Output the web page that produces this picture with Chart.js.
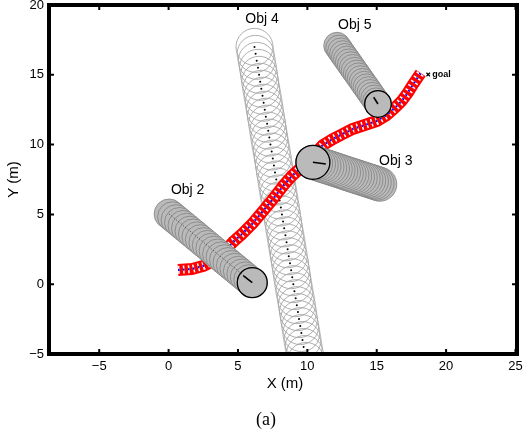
<!DOCTYPE html>
<html>
<head>
<meta charset="utf-8">
<title>Obstacle avoidance (a)</title>
<script src="https://cdn.jsdelivr.net/npm/chart.js@4.4.1/dist/chart.umd.min.js"></script>
<style>
	html, body { margin:0; padding:0; background:#fff; }
	canvas { display:block; }
</style>
</head>
<body>
<canvas id="plot" width="526" height="436"></canvas>
<script>
// vehicle path (red band with blue samples)
const pathX = [0.68, 1.69, 2.48, 3.35, 4.06, 4.64, 5.29, 6.01, 6.80, 7.52, 8.24, 8.88, 9.60, 10.40, 11.12, 11.83, 12.55, 13.27, 14.14, 15.00, 15.72, 16.29, 16.80, 17.23, 17.59, 17.88, 18.17];
const pathY = [1.02, 1.09, 1.30, 1.73, 2.38, 3.02, 3.60, 4.31, 5.24, 6.10, 7.03, 7.75, 8.40, 9.18, 9.97, 10.40, 10.76, 11.12, 11.40, 11.69, 12.12, 12.62, 13.12, 13.70, 14.27, 14.70, 15.13];
const goalX = [18.71];
const goalY = [15.02];

// Obj 2 positions over time (last one = current)
const obj2X = [0.04, 0.29, 0.54, 0.79, 1.04, 1.29, 1.54, 1.79, 2.04, 2.29, 2.54, 2.79, 3.04, 3.28, 3.53, 3.78, 4.03, 4.28, 4.53, 4.78, 5.03, 5.28, 5.53, 5.78, 6.03];
const obj2Y = [5.03, 4.83, 4.62, 4.42, 4.21, 4.01, 3.80, 3.60, 3.39, 3.19, 2.98, 2.78, 2.57, 2.37, 2.16, 1.96, 1.75, 1.55, 1.34, 1.14, 0.93, 0.73, 0.52, 0.32, 0.11];
const obj2HeadX = [6.03, 5.38];
const obj2HeadY = [0.11, 0.61];

// Obj 3
const obj3X = [15.22, 15.02, 14.82, 14.62, 14.42, 14.22, 14.02, 13.81, 13.61, 13.41, 13.21, 13.01, 12.81, 12.61, 12.41, 12.21, 12.01, 11.81, 11.61, 11.41, 11.20, 11.00, 10.80, 10.60, 10.40];
const obj3Y = [7.16, 7.23, 7.29, 7.36, 7.42, 7.49, 7.55, 7.62, 7.68, 7.75, 7.81, 7.88, 7.94, 8.01, 8.08, 8.14, 8.21, 8.27, 8.34, 8.40, 8.47, 8.53, 8.60, 8.66, 8.73];
const obj3HeadX = [10.40, 11.33];
const obj3HeadY = [8.73, 8.61];

// Obj 4 (outline circles)
const obj4X = [6.19, 6.27, 6.35, 6.44, 6.52, 6.60, 6.68, 6.77, 6.85, 6.93, 7.01, 7.10, 7.18, 7.26, 7.34, 7.43, 7.51, 7.59, 7.67, 7.76, 7.84, 7.92, 8.00, 8.09, 8.17, 8.25, 8.33, 8.42, 8.50, 8.58, 8.66, 8.75, 8.83, 8.91, 8.99, 9.07, 9.16, 9.24, 9.32, 9.40, 9.49, 9.57, 9.65, 9.73, 9.82, 9.90];
const obj4Y = [17.0, 16.5, 16.0, 15.5, 15.0, 14.5, 14.0, 13.5, 13.0, 12.5, 12.0, 11.5, 11.0, 10.5, 10.0, 9.5, 9.0, 8.5, 8.0, 7.5, 7.0, 6.5, 6.0, 5.5, 5.0, 4.5, 4.0, 3.5, 3.0, 2.5, 2.0, 1.5, 1.0, 0.5, 0.0, -0.5, -1.0, -1.5, -2.0, -2.5, -3.0, -3.5, -4.0, -4.5, -5.0, -5.5];

// Obj 5
const obj5X = [12.14, 12.28, 12.42, 12.56, 12.70, 12.84, 12.98, 13.12, 13.26, 13.40, 13.55, 13.69, 13.83, 13.97, 14.11, 14.25, 14.39, 14.53, 14.67, 14.81, 14.95, 15.09];
const obj5Y = [17.09, 16.89, 16.69, 16.49, 16.29, 16.10, 15.90, 15.70, 15.50, 15.30, 15.10, 14.90, 14.70, 14.50, 14.30, 14.11, 13.91, 13.71, 13.51, 13.31, 13.11, 12.91];
const obj5HeadX = [15.09, 14.78];
const obj5HeadY = [12.91, 13.39];

// text annotations
const labelText = ['Obj 2', 'Obj 3', 'Obj 4', 'Obj 5'];
const labelX = [1.37, 16.37, 6.73, 13.42];
const labelY = [6.71, 8.83, 19.0, 18.57];

const xTicks = [-5, 0, 5, 10, 15, 20, 25];
const yTicks = [-5, 0, 5, 10, 15, 20];

const SANS = '"Liberation Sans", Arial, Helvetica, sans-serif';

function pts(xs, ys){
	return xs.map((x, i) => ({x: x, y: ys[i]}));
}
function last(xs, ys){
	return {x: xs[xs.length - 1], y: ys[ys.length - 1]};
}
function fmt(v){
	return v < 0 ? '\u2212' + Math.abs(v) : String(v);
}

function sausage(xs, ys, r, order){
	return {
		data: pts(xs, ys), showLine: false, order: order, clip: 0,
		pointRadius: r, pointBackgroundColor: 'rgb(186,186,186)',
		pointBorderColor: 'rgb(128,128,128)', pointBorderWidth: 0.8
	};
}
function heading(xs, ys){
	return {
		data: pts(xs, ys), showLine: true, order: 1, clip: 0,
		borderColor: '#000', borderWidth: 1.6, pointRadius: 0
	};
}

const datasets = [
	heading(obj2HeadX, obj2HeadY),
	heading(obj3HeadX, obj3HeadY),
	heading(obj5HeadX, obj5HeadY),
	{
		// current positions
		data: [last(obj2X, obj2Y), last(obj3X, obj3Y), last(obj5X, obj5Y)],
		showLine: false, order: 2, clip: 0,
		pointRadius: [15, 17, 13.3], pointBackgroundColor: 'rgba(0,0,0,0)',
		pointBorderColor: '#000', pointBorderWidth: 1.3
	},
	{
		data: pts(obj2X, obj2Y), showLine: true, order: 3, clip: 0,
		borderColor: 'rgba(0,0,0,0.8)', borderWidth: 0.8, borderDash: [1, 2], pointRadius: 0
	},
	sausage(obj2X, obj2Y, 15, 4),
	sausage(obj3X, obj3Y, 17, 4),
	sausage(obj5X, obj5Y, 13.3, 4),
	{
		data: pts(goalX, goalY), showLine: false, order: 5, clip: 0,
		pointStyle: 'crossRot', pointRadius: 2.5, pointBorderColor: '#000', pointBorderWidth: 1.2
	},
	{
		data: pts(pathX, pathY), showLine: true, order: 6, clip: 0,
		borderColor: 'rgb(0,0,255)', borderWidth: 2.2, borderDash: [1.5, 3.5], pointRadius: 0
	},
	{
		data: pts(pathX, pathY), showLine: true, order: 7, clip: 0,
		borderColor: '#fff', borderWidth: 8, borderDash: [1.5, 3.5], pointRadius: 0
	},
	{
		data: pts(pathX, pathY), showLine: true, order: 8, clip: 0,
		borderColor: 'rgb(255,0,0)', borderWidth: 12, borderJoinStyle: 'round', pointRadius: 0
	},
	{
		data: pts(obj4X, obj4Y), showLine: false, order: 9, clip: 0,
		pointRadius: 1, pointBackgroundColor: '#000', pointBorderWidth: 0
	},
	{
		data: pts(obj4X, obj4Y), showLine: false, order: 10, clip: 0,
		pointRadius: 18.5, pointBackgroundColor: 'rgba(0,0,0,0)',
		pointBorderColor: 'rgb(165,165,165)', pointBorderWidth: 0.9
	}
];

const figureText = {
	id: 'figureText',
	afterDatasetsDraw(chart){
		const {ctx, scales: {x, y}} = chart;
		ctx.save();
		ctx.fillStyle = '#000';
		ctx.font = '14px ' + SANS;
		ctx.textAlign = 'center';
		ctx.textBaseline = 'middle';
		labelText.forEach((t, i) => {
			ctx.fillText(t, x.getPixelForValue(labelX[i]), y.getPixelForValue(labelY[i]));
		});
		ctx.font = 'bold 9px ' + SANS;
		ctx.textAlign = 'left';
		ctx.fillText('goal', x.getPixelForValue(goalX[0]) + 4, y.getPixelForValue(goalY[0]));
		ctx.restore();
	},
	afterDraw(chart){
		const {ctx, chartArea: a, scales: {x, y}} = chart;
		ctx.save();
		ctx.strokeStyle = '#000';
		ctx.lineWidth = 4;
		ctx.strokeRect(a.left, a.top, a.right - a.left, a.bottom - a.top);
		// inward tick marks on all four sides
		ctx.lineWidth = 2;
		ctx.beginPath();
		for(const v of xTicks){
			const px = x.getPixelForValue(v);
			ctx.moveTo(px, a.bottom); ctx.lineTo(px, a.bottom - 5);
			ctx.moveTo(px, a.top); ctx.lineTo(px, a.top + 5);
		}
		for(const v of yTicks){
			const py = y.getPixelForValue(v);
			ctx.moveTo(a.left, py); ctx.lineTo(a.left + 5, py);
			ctx.moveTo(a.right, py); ctx.lineTo(a.right - 5, py);
		}
		ctx.stroke();

		ctx.fillStyle = '#000';
		ctx.textAlign = 'center';
		ctx.textBaseline = 'middle';
		ctx.font = '15px ' + SANS;
		ctx.fillText('X (m)', (a.left + a.right) / 2 + 2, a.bottom + 30);
		ctx.save();
		ctx.translate(13.5, (a.top + a.bottom) / 2);
		ctx.rotate(-Math.PI / 2);
		ctx.fillText('Y (m)', 0, 0);
		ctx.restore();
		ctx.font = '18px "Liberation Serif", "Times New Roman", serif';
		ctx.fillText('(a)', 266, 420);
		ctx.restore();
	}
};

const tickFont = {family: SANS, size: 13};

new Chart(document.getElementById('plot'), {
	type: 'scatter',
	data: {datasets: datasets},
	options: {
		responsive: false,
		animation: false,
		layout: {autoPadding: false, padding: {top: 5, right: 9, bottom: 0, left: 0}},
		plugins: {legend: {display: false}, tooltip: {enabled: false}},
		scales: {
			x: {
				type: 'linear', min: -8.62, max: 25.11,
				grid: {display: false, drawTicks: false},
				border: {display: false},
				ticks: {stepSize: 5, includeBounds: false, autoSkip: false, maxRotation: 0,
					color: '#000', font: tickFont, padding: 5, callback: fmt},
				afterFit(s){ s.height = 82; s.paddingLeft = 0; s.paddingRight = 0; }
			},
			y: {
				type: 'linear', min: -5, max: 20,
				grid: {display: false, drawTicks: false},
				border: {display: false},
				ticks: {stepSize: 5, includeBounds: false, autoSkip: false,
					color: '#000', font: tickFont, padding: 5, callback: fmt},
				afterFit(s){ s.width = 49; s.paddingTop = 0; s.paddingBottom = 0; }
			}
		}
	},
	plugins: [figureText]
});
</script>
</body>
</html>
